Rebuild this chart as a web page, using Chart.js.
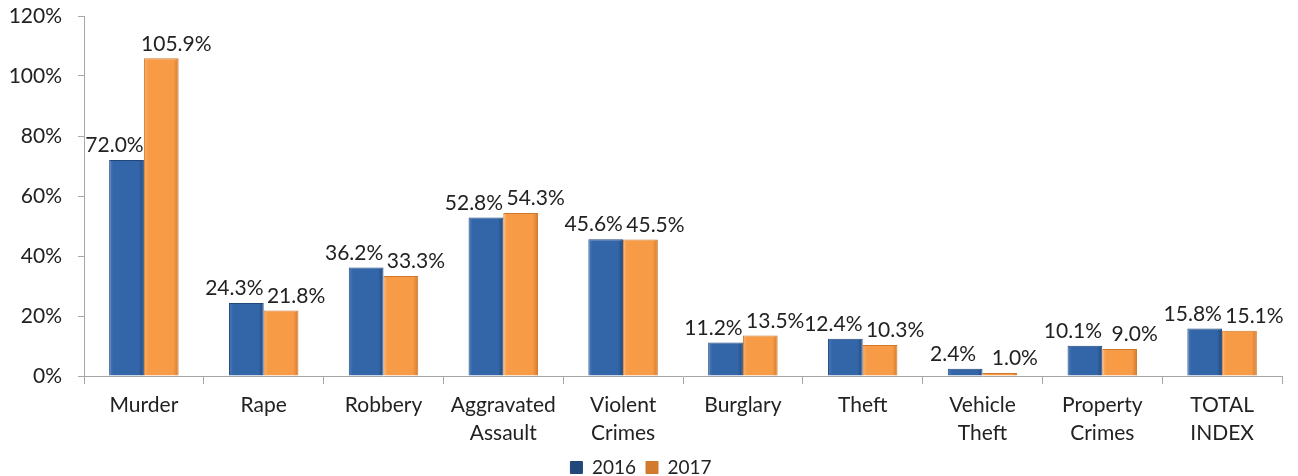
<!DOCTYPE html>
<html>
<head>
<meta charset="utf-8">
<script src="https://cdn.jsdelivr.net/npm/chart.js@4.4.1/dist/chart.umd.min.js"></script>
<style>
  body { margin: 0; background: #fff; }
  #wrap { width: 1298px; height: 476px; position: relative; }
</style>
</head>
<body>
<div id="wrap"><canvas id="crimeChart"></canvas></div>
<script>
// categories + values (percent)
let categories = ["Murder", "Rape", "Robbery", ["Aggravated", "Assault"], ["Violent", "Crimes"],
  "Burglary", "Theft", ["Vehicle", "Theft"], ["Property", "Crimes"], ["TOTAL", "INDEX"]];
let values2016 = [72.0, 24.3, 36.2, 52.8, 45.6, 11.2, 12.4, 2.4, 10.1, 15.8];
let values2017 = [105.9, 21.8, 33.3, 54.3, 45.5, 13.5, 10.3, 1.0, 9.0, 15.1];
let yTicks = [0, 20, 40, 60, 80, 100, 120];

const FONT = "Lato, 'Liberation Sans', sans-serif";
const CAT_PCT = 0.58;

// bevel-ish fill: darker edges left/right, like the excel bars
let bevel = (c, stops) => {
  let chart = c.chart;
  let x = chart.scales && chart.scales.x;
  if (c.type !== 'data' || !x || !x.width) return stops[1];
  let w = (x.width / categories.length) * CAT_PCT / 2;
  let mid = x.getPixelForValue(c.dataIndex) + (c.datasetIndex === 0 ? -w / 2 : w / 2);
  let g = chart.ctx.createLinearGradient(mid - w / 2, 0, mid + w / 2, 0);
  g.addColorStop(0, stops[0]);
  g.addColorStop(0.12, stops[1]);
  g.addColorStop(0.85, stops[1]);
  g.addColorStop(1, stops[2]);
  return g;
};

// draws the % labels above each bar
let valueLabels = {
  id: 'valueLabels',
  afterDatasetsDraw(chart) {
    let ctx = chart.ctx;
    ctx.save();
    ctx.font = "21px " + FONT;
    ctx.fillStyle = "#222";
    ctx.textAlign = "center";
    ctx.textBaseline = "bottom";
    chart.data.datasets.forEach((ds, i) => {
      let meta = chart.getDatasetMeta(i);
      meta.data.forEach((bar, j) => {
        let dx = i === 0 ? -12 : 15;
        ctx.fillText(ds.data[j].toFixed(1) + "%", bar.x + dx, bar.y - 4);
      });
    });
    ctx.restore();
  }
};

new Chart(document.getElementById("crimeChart"), {
  type: 'bar',
  data: {
    labels: categories,
    datasets: [
      {
        label: "2016",
        data: values2016,
        backgroundColor: (c) => bevel(c, ["#4a7cc0", "#3366a8", "#22487c"]),
        borderColor: "#21467a",
        borderWidth: 1
      },
      {
        label: "2017",
        data: values2017,
        backgroundColor: (c) => bevel(c, ["#fbb26a", "#f79b47", "#d47a2c"]),
        borderColor: "#cf782c",
        borderWidth: 1
      }
    ]
  },
  options: {
    responsive: true,
    maintainAspectRatio: false,
    animation: false,
    layout: { padding: { left: 0, right: 16, top: 0, bottom: -11 } },
    datasets: {
      bar: { categoryPercentage: CAT_PCT, barPercentage: 1.0 }
    },
    scales: {
      x: {
        grid: { drawOnChartArea: false, tickLength: 8, color: "#a6a6a6", offset: true },
        border: { color: "#a6a6a6" },
        ticks: { font: { family: FONT, size: 21, lineHeight: 1.33 }, color: "#222", padding: 7, maxRotation: 0, autoSkip: false },
        afterFit: (s) => { s.height = 72; s.paddingLeft = 0; }
      },
      y: {
        min: 0,
        max: 120,
        afterBuildTicks: (axis) => { axis.ticks = yTicks.map(v => ({ value: v })); },
        grid: { drawOnChartArea: false, tickLength: 6, color: "#a6a6a6" },
        border: { color: "#a6a6a6" },
        ticks: {
          font: { family: FONT, size: 21 },
          color: "#222",
          padding: 16,
          callback: (v) => v + "%"
        },
        afterFit: (s) => { s.width = 84; s.paddingTop = 16; s.paddingBottom = 11; }
      }
    },
    plugins: {
      legend: {
        position: 'bottom',
        labels: { font: { family: FONT, size: 19 }, color: "#222", boxWidth: 12, boxHeight: 12, padding: 10 }
      },
      tooltip: { enabled: false }
    }
  },
  plugins: [valueLabels]
});
</script>
</body>
</html>
